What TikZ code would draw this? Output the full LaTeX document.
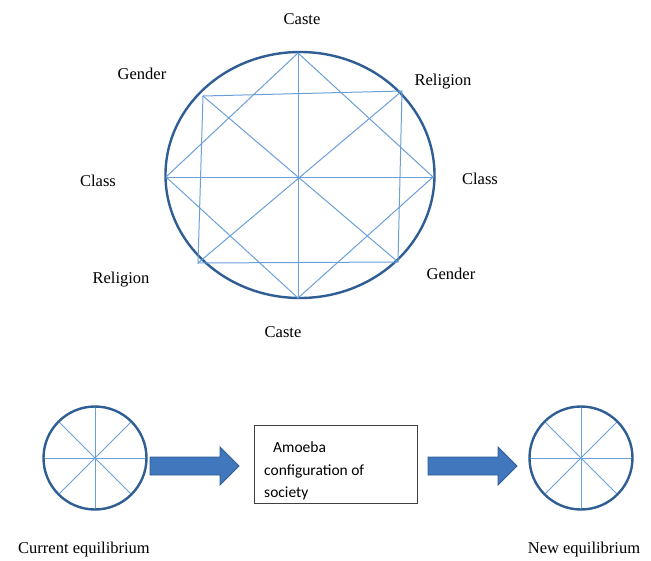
\documentclass[tikz,border=0pt]{standalone}
\usepackage{fontspec}
\usetikzlibrary{shapes.geometric}
\setmainfont{Liberation Serif}
\newfontfamily\boxfont{Carlito}
\definecolor{rimblue}{HTML}{2E5E94}
\definecolor{spokeblue}{HTML}{6A9FD8}
\definecolor{arrowfill}{HTML}{4177BD}
\definecolor{arrowedge}{HTML}{2F5C91}
\begin{document}
\begin{tikzpicture}[x=1pt,y=-1pt,
  rim/.style={draw=rimblue,line width=2.4pt},
  spoke/.style={draw=spokeblue,line width=1pt},
  lbl/.style={font=\fontsize{16.5}{19}\selectfont,inner sep=0pt},
  blockarrow/.style={fill=arrowfill,draw=arrowedge,line width=0.8pt,line join=miter}]
\useasboundingbox (0,0) rectangle (651,560);
% big ellipse
\node[rim,ellipse,minimum width=269pt,minimum height=246pt,inner sep=0pt] (big) at (300,175) {};
\coordinate (T) at (298,53);
\coordinate (B) at (298,298);
\coordinate (L) at (166,177);
\coordinate (R) at (433,177);
\coordinate (TL) at (203,96);
\coordinate (TR) at (402,91);
\coordinate (BR) at (398,262);
\coordinate (BL) at (198,263);
\draw[spoke] (T) -- (R) -- (B) -- (L) -- cycle;
\draw[spoke] (TL) -- (TR) -- (BR) -- (BL) -- cycle;
\draw[spoke] (T) -- (B);
\draw[spoke] (L) -- (R);
\draw[spoke] (TL) -- (BR);
\draw[spoke] (TR) -- (BL);
% labels
\node[lbl] (casteT) at (302,19) {Caste};
\node[lbl] (genderTL) at (142,74) {Gender};
\node[lbl] (religTR) at (443,82) {Religion};
\node[lbl] (classL) at (98,181) {Class};
\node[lbl] (classR) at (480,179) {Class};
\node[lbl] (religBL) at (121,280) {Religion};
\node[lbl] (genderBR) at (451,274) {Gender};
\node[lbl] (casteB) at (283,332) {Caste};
% left small circle
\node[circle,minimum size=103pt,inner sep=0pt] (cur) at (95,458) {};
\foreach \a in {0,45,...,315} \draw[spoke] (cur.center) -- (cur.\a);
\node[rim,circle,minimum size=103pt,inner sep=0pt] at (cur) {};
% right small circle
\node[circle,minimum size=103pt,inner sep=0pt] (new) at (581,458) {};
\foreach \a in {0,45,...,315} \draw[spoke] (new.center) -- (new.\a);
\node[rim,circle,minimum size=103pt,inner sep=0pt] at (new) {};
% box
\node[draw=black!75,line width=0.8pt,minimum width=163pt,minimum height=78pt,inner sep=0pt] (box) at (335.5,464) {};
\node[anchor=north west,align=left,inner sep=0pt,font=\boxfont\fontsize{15.5}{22.5}\selectfont] (boxtext) at (264,442) {\hspace*{9pt}Amoeba\\configuration of\\society};
% block arrows
\draw[blockarrow] (150,457) -- (220,457) -- (220,447) -- (239,466) -- (220,485) -- (220,475) -- (150,475) -- cycle;
\draw[blockarrow] (428,457) -- (498,457) -- (498,447) -- (517,466) -- (498,485) -- (498,475) -- (428,475) -- cycle;
% bottom labels
\node[lbl] (curlbl) at (84,550) {Current equilibrium};
\node[lbl] (newlbl) at (584,550) {New equilibrium};
\end{tikzpicture}
\end{document}
